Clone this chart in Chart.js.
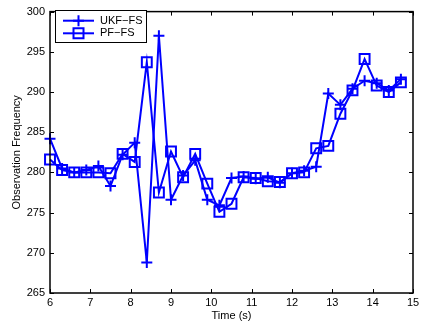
<!DOCTYPE html>
<html>
<head>
<meta charset="utf-8">
<script src="https://cdn.jsdelivr.net/npm/chart.js@4.4.1/dist/chart.umd.min.js"></script>
<style>
html,body{margin:0;padding:0;background:#fff;}
#c{display:block;}
</style>
</head>
<body>
<canvas id="c" width="423" height="327"></canvas>
<script>
const times = [6.0, 6.3, 6.6, 6.9, 7.2, 7.5, 7.8, 8.1, 8.4, 8.7, 9.0, 9.3, 9.6, 9.9, 10.2, 10.5, 10.8, 11.1, 11.4, 11.7, 12.0, 12.3, 12.6, 12.9, 13.2, 13.5, 13.8, 14.1, 14.4, 14.7];
const ukfFS = [284.2, 280.5, 280.0, 280.3, 280.8, 278.3, 282.2, 283.7, 268.8, 297.0, 276.6, 279.6, 281.5, 276.6, 275.9, 279.3, 279.5, 279.2, 279.4, 278.7, 279.9, 280.2, 280.7, 289.8, 288.4, 290.4, 291.4, 291.1, 290.2, 291.6];
const pfFS  = [281.6, 280.3, 280.0, 280.0, 280.0, 279.9, 282.3, 281.3, 293.7, 277.5, 282.6, 279.4, 282.3, 278.6, 275.1, 276.1, 279.4, 279.3, 278.9, 278.8, 279.9, 280.0, 283.0, 283.3, 287.3, 290.2, 294.1, 290.8, 290.0, 291.2];
const seriesNames = ['UKF\u2212FS', 'PF\u2212FS'];
const xTicks = [6, 7, 8, 9, 10, 11, 12, 13, 14, 15];
const yTicks = [265, 270, 275, 280, 285, 290, 295, 300];
const xTitle = 'Time (s)';
const yTitle = 'Observation Frequency';

const BLUE = '#0000ff';
const FONT = '"Liberation Sans", Arial, Helvetica, sans-serif';

function pts(ys){ return times.map((t,i)=>({x:t,y:ys[i]})); }

const framePlugin = {
  id:'frame',
  afterDraw(chart){
    const {ctx, chartArea:a, scales} = chart;
    ctx.save();
    ctx.strokeStyle = '#000';
    ctx.lineWidth = 1;
    const tl = 4;
    ctx.beginPath();
    xTicks.forEach(v=>{
      const px = Math.round(scales.x.getPixelForValue(v))+0.5;
      ctx.moveTo(px, a.bottom); ctx.lineTo(px, a.bottom-tl);
      ctx.moveTo(px, a.top); ctx.lineTo(px, a.top+tl);
    });
    yTicks.forEach(v=>{
      const py = Math.round(scales.y.getPixelForValue(v))+0.5;
      ctx.moveTo(a.left, py); ctx.lineTo(a.left+tl, py);
      ctx.moveTo(a.right, py); ctx.lineTo(a.right-tl, py);
    });
    ctx.stroke();
    ctx.lineWidth = 1.5;
    ctx.strokeRect(a.left, a.top, a.right-a.left, a.bottom-a.top);

    // axis titles
    ctx.fillStyle = '#000';
    ctx.font = '11px ' + FONT;
    ctx.textAlign = 'center';
    ctx.textBaseline = 'middle';
    ctx.fillText(xTitle, (a.left+a.right)/2, 316);
    ctx.save();
    ctx.translate(17, (a.top+a.bottom)/2);
    ctx.rotate(-Math.PI/2);
    ctx.fillText(yTitle, 0, 0);
    ctx.restore();

    // legend
    const lx=55, ly=10, lw=91, lh=32;
    ctx.fillStyle='#fff';
    ctx.fillRect(lx,ly,lw,lh);
    ctx.lineWidth=1;
    ctx.strokeStyle='#000';
    ctx.strokeRect(lx+0.5,ly+0.5,lw,lh);
    const rows=[20.7,33.3];
    const styles=['cross','rect'];
    rows.forEach((ry,i)=>{
      ctx.strokeStyle=BLUE;
      ctx.lineWidth=2;
      ctx.beginPath();
      ctx.moveTo(63,ry); ctx.lineTo(94,ry);
      ctx.stroke();
      const mx=78.5;
      ctx.beginPath();
      if(styles[i]==='cross'){
        ctx.moveTo(mx-5.5,ry); ctx.lineTo(mx+5.5,ry);
        ctx.moveTo(mx,ry-5.5); ctx.lineTo(mx,ry+5.5);
      } else {
        ctx.rect(mx-5,ry-5,10,10);
      }
      ctx.stroke();
      ctx.fillStyle='#000';
      ctx.font='11px '+FONT;
      ctx.textAlign='left';
      ctx.textBaseline='middle';
      ctx.fillText(seriesNames[i], 100, ry);
    });
    ctx.restore();
  }
};

new Chart(document.getElementById('c'), {
  type:'line',
  data:{
    datasets:[
      {label:seriesNames[0], data:pts(ukfFS), borderColor:BLUE, backgroundColor:'rgba(0,0,0,0)',
       borderWidth:2, pointStyle:'cross', pointRadius:5.5, pointBorderWidth:2, pointBorderColor:BLUE,
       pointBackgroundColor:'rgba(0,0,0,0)', tension:0, clip:false},
      {label:seriesNames[1], data:pts(pfFS), borderColor:BLUE, backgroundColor:'rgba(0,0,0,0)',
       borderWidth:2, pointStyle:'rect', pointRadius:7, pointBorderWidth:2, pointBorderColor:BLUE,
       pointBackgroundColor:'rgba(0,0,0,0)', tension:0, clip:false}
    ]
  },
  options:{
    responsive:false,
    animation:false,
    devicePixelRatio:1,
    layout:{padding:{left:0,right:10,top:6,bottom:0}},
    plugins:{legend:{display:false}, tooltip:{enabled:false}},
    scales:{
      x:{type:'linear', min:6, max:15,
         afterBuildTicks(s){ s.ticks = xTicks.map(v=>({value:v})); },
         afterFit(s){ s.height = 34; },
         grid:{display:false, drawTicks:false}, border:{display:false},
         ticks:{color:'#000', font:{size:11, family:FONT}, padding:3, maxRotation:0, autoSkip:false}},
      y:{type:'linear', min:265, max:300,
         afterBuildTicks(s){ s.ticks = yTicks.map(v=>({value:v})); },
         afterFit(s){ s.width = 50; },
         grid:{display:false, drawTicks:false}, border:{display:false},
         ticks:{color:'#000', font:{size:11, family:FONT}, padding:5, autoSkip:false}}
    }
  },
  plugins:[framePlugin]
});
</script>
</body>
</html>
